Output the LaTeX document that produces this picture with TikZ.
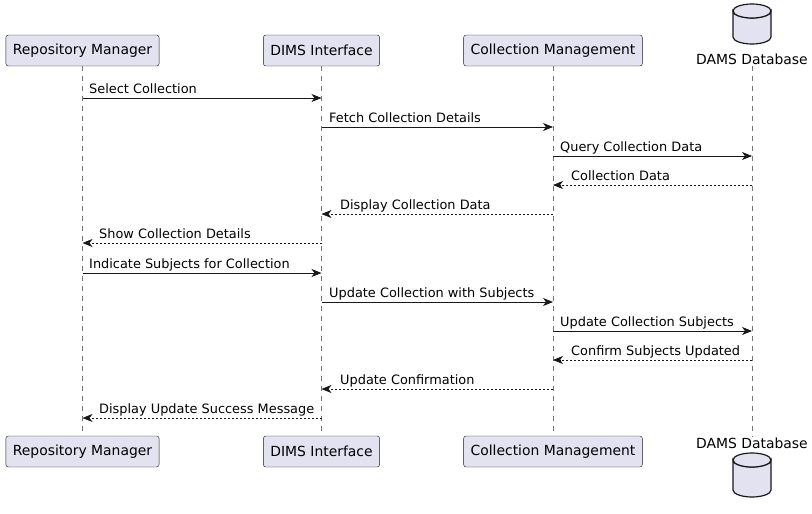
\documentclass[tikz,border=0pt]{standalone}
\usepackage{fontspec}
\setmainfont{DejaVu Sans}
\usepackage{xcolor}
\usetikzlibrary{arrows.meta, positioning}

\definecolor{partfill}{HTML}{E2E2F0}
\definecolor{partline}{HTML}{181818}

\begin{document}
\begin{tikzpicture}[x=1pt, y=-1pt, >={Stealth[length=10pt,width=8pt,inset=3pt]},
    font=\fontsize{13.9}{16}\selectfont,
    part/.style={draw=partline, fill=partfill, rounded corners=2.5pt, minimum height=31pt, inner xsep=7pt},
    dbshape/.style={draw=partline, fill=partfill, line width=1.2pt},
    life/.style={draw=gray!90!black, dash pattern=on 5pt off 5pt, line width=0.5pt},
    call/.style={->, draw=partline, line width=0.8pt},
    reply/.style={->, draw=partline, dash pattern=on 2pt off 2pt, line width=0.8pt},
    lbl/.style={anchor=base west, inner sep=0pt, font=\fontsize{12.9}{15}\selectfont}]
    % cadre de l'image
    \useasboundingbox (0,0) rectangle (812,514);

    % Participants (haut)
    \node[part] (rm) at (82.5,50.5) {Repository Manager};
    \node[part] (dims) at (321.5,50.5) {DIMS Interface};
    \node[part] (cm) at (553,50.5) {Collection Management};
    % base de donnees (cylindre)
    \draw[dbshape] (733,11) -- (733,37) arc[start angle=180, end angle=0, x radius=19, y radius=7]
        -- (771,11) arc[start angle=0, end angle=180, x radius=19, y radius=7] -- cycle;
    \draw[dbshape] (752,11) ellipse[x radius=19, y radius=7];
    \node[minimum width=38pt, minimum height=40pt] (dams) at (752,24) {};
    \node[inner sep=1pt] (damsl) at (752,59) {DAMS Database};

    % Participants (bas)
    \node[part] (rmb) at (82.5,451.5) {Repository Manager};
    \node[part] (dimsb) at (321.5,451.5) {DIMS Interface};
    \node[part] (cmb) at (553,451.5) {Collection Management};
    \node[inner sep=1pt] (damsbl) at (752,443) {DAMS Database};
    \draw[dbshape] (733,460) -- (733,490) arc[start angle=180, end angle=0, x radius=19, y radius=7]
        -- (771,460) arc[start angle=0, end angle=180, x radius=19, y radius=7] -- cycle;
    \draw[dbshape] (752,460) ellipse[x radius=19, y radius=7];
    \node[minimum width=38pt, minimum height=44pt] (damsb) at (752,475) {};

    % Lignes de vie
    \draw[life] (rm.south) -- (rmb.north);
    \draw[life] (dims.south) -- (dimsb.north);
    \draw[life] (cm.south) -- (cmb.north);
    \draw[life] (damsl.south) -- (damsbl.north);

    % Messages
    \draw[call] (rm |- 0,98) -- (dims |- 0,98);
    \node[lbl] (m1) at (89,93.5) {Select Collection};
    \draw[call] (dims |- 0,127) -- (cm |- 0,127);
    \node[lbl] (m2) at (329,122.5) {Fetch Collection Details};
    \draw[call] (cm |- 0,156) -- (dams |- 0,156);
    \node[lbl] (m3) at (560,151.5) {Query Collection Data};
    \draw[reply] (dams |- 0,185) -- (cm |- 0,185);
    \node[lbl] (m4) at (571,180.5) {Collection Data};
    \draw[reply] (cm |- 0,214) -- (dims |- 0,214);
    \node[lbl] (m5) at (340,209.5) {Display Collection Data};
    \draw[reply] (dims |- 0,243) -- (rm |- 0,243);
    \node[lbl] (m6) at (99,238.5) {Show Collection Details};
    \draw[call] (rm |- 0,273) -- (dims |- 0,273);
    \node[lbl] (m7) at (89,268.5) {Indicate Subjects for Collection};
    \draw[call] (dims |- 0,302) -- (cm |- 0,302);
    \node[lbl] (m8) at (329,297.5) {Update Collection with Subjects};
    \draw[call] (cm |- 0,331) -- (dams |- 0,331);
    \node[lbl] (m9) at (560,326.5) {Update Collection Subjects};
    \draw[reply] (dams |- 0,360) -- (cm |- 0,360);
    \node[lbl] (m10) at (571,355.5) {Confirm Subjects Updated};
    \draw[reply] (cm |- 0,389) -- (dims |- 0,389);
    \node[lbl] (m11) at (340,384.5) {Update Confirmation};
    \draw[reply] (dims |- 0,418) -- (rm |- 0,418);
    \node[lbl] (m12) at (99,413.5) {Display Update Success Message};
\end{tikzpicture}
\end{document}
